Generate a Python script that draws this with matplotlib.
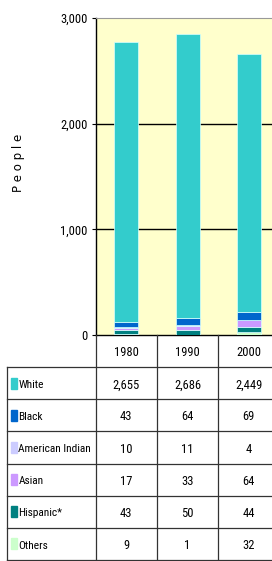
import numpy as np
import matplotlib
matplotlib.use("Agg")
import matplotlib.pyplot as plt
from matplotlib.patches import Rectangle
from matplotlib import font_manager

# 数据
years = ["1980", "1990", "2000"]
groups = ["White", "Black", "American Indian", "Asian", "Hispanic*", "Others"]
white = [2655, 2686, 2449]
black = [43, 64, 69]
american_indian = [10, 11, 4]
asian = [17, 33, 64]
hispanic = [43, 50, 44]
others = [9, 1, 32]
colors = ["#33CCCC", "#0066CC", "#CCCCFF", "#CC99FF", "#008080", "#CCFFCC"]
y_ticks = [0, 1000, 2000, 3000]
y_label = "People"

series = [white, black, american_indian, asian, hispanic, others]

# 找一个窄字体（原图是 Arial Narrow 风格）
files = [f.fname for f in font_manager.fontManager.ttflist]
prefs = [("LiberationSansNarrow-Regular", 9.5), ("RobotoCondensed-Regular", 9.0),
         ("NotoSans-Condensed.", 9.0), ("DejaVuSansCondensed.", 8.5),
         ("OpenSans_Condensed-Regular", 9.0)]
fp, fs = None, 8.0
for key, size in prefs:
    hits = [p for p in files if key in p]
    if hits:
        fp, fs = font_manager.FontProperties(fname=hits[0]), size
        break
if fp is None:
    fp = font_manager.FontProperties(family='Liberation Sans')
fp.set_size(fs)
fp_lab = fp.copy()
fp_lab.set_size(fs * 0.91)

W, H = 272, 561
fig = plt.figure(figsize=(W / 100, H / 100), dpi=100)

# 坐标位置（像素）
plot_l, plot_r = 95.7, 279.5
plot_top, plot_bot = 18, 335
tab_l, tab_bot = 7, 560

ax = fig.add_axes([plot_l / W, 1 - plot_bot / H, (plot_r - plot_l) / W, (plot_bot - plot_top) / H])
ax.set_facecolor("#FFFFCC")

# 堆叠柱状图：从下往上 Others, Hispanic, Asian, American Indian, Black, White
x = np.arange(len(years))
bottom = np.zeros(len(years))
for vals, c in reversed(list(zip(series, colors))):
    ax.bar(x, vals, width=0.39, bottom=bottom, color=c, edgecolor="#D8FFFF", linewidth=0.5, zorder=3)
    bottom += np.array(vals)

ax.set_xlim(-0.5, 2.5)
ax.set_ylim(0, 3000)
ax.set_yticks(y_ticks)
ax.set_yticklabels([f"{v:,}" for v in y_ticks], fontproperties=fp)
ax.set_xticks([])
ax.tick_params(axis='y', length=3, width=0.8, pad=3)
for v in y_ticks[1:-1]:
    ax.axhline(v, color="black", linewidth=1, zorder=2)
ax.spines['top'].set_color("#999999")
ax.spines['right'].set_visible(False)
ax.spines['left'].set_linewidth(1)
ax.spines['bottom'].set_linewidth(1)

fig.text(18.5 / W, 1 - 163 / H, " ".join(y_label), rotation=90, ha='center', va='center',
         fontsize=8.5, family='DejaVu Sans')

# 数据表格
unit = (plot_r - plot_l) / 3
lab_w = (plot_l - tab_l) / unit
tab = fig.add_axes([tab_l / W, 1 - tab_bot / H, (plot_r - tab_l) / W, (tab_bot - plot_bot) / H])
tab.set_xlim(-0.5 - lab_w, 2.5)
nrow = len(groups) + 1
tab.set_ylim(nrow, 0)
tab.axis('off')

lc = "#333333"
lw = 0.9
# 竖线
tab.plot([-0.5 - lab_w] * 2, [1, nrow], color=lc, lw=lw, clip_on=False)
for cx in [-0.5, 0.5, 1.5]:
    tab.plot([cx, cx], [0, nrow], color=lc, lw=lw, clip_on=False)
# 横线
for r in range(1, nrow + 1):
    tab.plot([-0.5 - lab_w, 2.5], [r, r], color=lc, lw=lw, clip_on=False)

for j, yr in enumerate(years):
    tab.text(j, 0.55, yr, ha='center', va='center', fontproperties=fp)

row_px = (tab_bot - plot_bot) / nrow
sw = 6 / unit
sh = 11 / row_px
x0 = -0.5 - lab_w
for i, (g, vals, c) in enumerate(zip(groups, series, colors)):
    yc = i + 1.5
    tab.add_patch(Rectangle((x0 + 4 / unit, yc - sh / 2), sw, sh, color=c))
    tab.text(x0 + 11.5 / unit, yc + 0.05, g, ha='left', va='center', fontproperties=fp_lab)
    for j, v in enumerate(vals):
        tab.text(j, yc + 0.05, f"{v:,}", ha='center', va='center', fontproperties=fp)

fig.savefig("out.png", dpi=100)
